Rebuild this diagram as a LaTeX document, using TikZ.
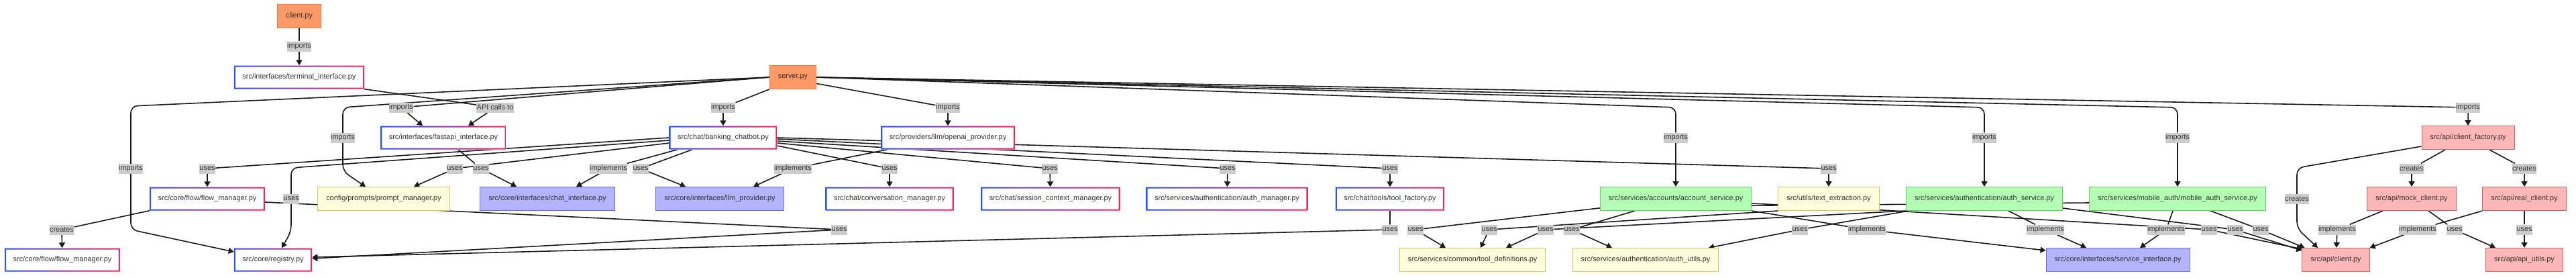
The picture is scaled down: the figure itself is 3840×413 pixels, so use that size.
\documentclass[tikz,border=0pt]{standalone}
\usepackage{fontspec}
\setmainfont{Liberation Sans}
\usetikzlibrary{arrows.meta,backgrounds}

\definecolor{gradA}{HTML}{2B50F5}
\definecolor{gradB}{HTML}{F2275A}
\definecolor{txtgray}{HTML}{333333}
\definecolor{lblgray}{HTML}{CCCCCC}
\definecolor{linecol}{HTML}{1A1A1A}
\definecolor{entryfill}{HTML}{FF9966}
\definecolor{entrydraw}{HTML}{FF7744}
\definecolor{conffill}{HTML}{FFFFDD}
\definecolor{confdraw}{HTML}{E0C060}
\definecolor{ifacefill}{HTML}{B3B3FF}
\definecolor{ifacedraw}{HTML}{6B6BFF}
\definecolor{svcfill}{HTML}{B3FFB3}
\definecolor{svcdraw}{HTML}{66CC66}
\definecolor{apifill}{HTML}{FFB6B6}
\definecolor{apidraw}{HTML}{CC6666}

\begin{document}
\begin{tikzpicture}[x=1pt,y=-1pt,
	every node/.style={font=\fontsize{10.9}{13}\selectfont, text=txtgray},
	modbox/.style={rectangle, minimum height=35pt, inner xsep=12.5pt, inner ysep=0pt},
	srcbox/.style={modbox, fill=white, path picture={
		\shade[left color=gradA, right color=gradB, even odd rule]
		(path picture bounding box.south west) rectangle (path picture bounding box.north east)
		([shift={(2pt,2pt)}]path picture bounding box.south west) rectangle ([shift={(-2pt,-2pt)}]path picture bounding box.north east);}},
	entrybox/.style={modbox, fill=entryfill, draw=entrydraw, line width=1pt},
	confbox/.style={modbox, fill=conffill, draw=confdraw, line width=1pt},
	ifacebox/.style={modbox, fill=ifacefill, draw=ifacedraw, line width=1pt},
	svcbox/.style={modbox, fill=svcfill, draw=svcdraw, line width=1pt},
	apibox/.style={modbox, fill=apifill, draw=apidraw, line width=1pt},
	lbl/.style={fill=lblgray, inner xsep=0.5pt, inner ysep=0pt, minimum height=15pt},
	dep/.style={draw=linecol, line width=1.6pt, -{Triangle[length=8pt,width=9pt]}}]
	\useasboundingbox (0,0) rectangle (3840,413);

	% Knoten
	\node[entrybox] (client) at (446,24) {client.py};
	\node[srcbox] (term) at (446,115) {src/interfaces/terminal\_interface.py};
	\node[entrybox] (server) at (1182,115) {server.py};
	\node[srcbox] (fastapi) at (661,205) {src/interfaces/fastapi\_interface.py};
	\node[srcbox] (chatbot) at (1078,205) {src/chat/banking\_chatbot.py};
	\node[srcbox] (openai) at (1413,205) {src/providers/llm/openai\_provider.py};
	\node[apibox] (factory) at (3679,205) {src/api/client\_factory.py};
	\node[srcbox] (flowA) at (309,296) {src/core/flow/flow\_manager.py};
	\node[confbox] (prompt) at (572,296) {config/prompts/prompt\_manager.py};
	\node[ifacebox] (chatif) at (816,296) {src/core/interfaces/chat\_interface.py};
	\node[ifacebox] (llmif) at (1073,296) {src/core/interfaces/llm\_provider.py};
	\node[srcbox] (conv) at (1326,296) {src/chat/conversation\_manager.py};
	\node[srcbox] (sess) at (1566,296) {src/chat/session\_context\_manager.py};
	\node[srcbox] (authmgr) at (1829,296) {src/services/authentication/auth\_manager.py};
	\node[srcbox] (toolfac) at (2072,296) {src/chat/tools/tool\_factory.py};
	\node[svcbox] (account) at (2498,296) {src/services/accounts/account\_service.py};
	\node[confbox] (textex) at (2726,296) {src/utils/text\_extraction.py};
	\node[svcbox] (authsvc) at (2958,296) {src/services/authentication/auth\_service.py};
	\node[svcbox] (mobile) at (3246,296) {src/services/mobile\_auth/mobile\_auth\_service.py};
	\node[apibox] (mock) at (3595,296) {src/api/mock\_client.py};
	\node[apibox] (real) at (3763,296) {src/api/real\_client.py};
	\node[srcbox] (flowB) at (93,387) {src/core/flow/flow\_manager.py};
	\node[srcbox] (registry) at (407,387) {src/core/registry.py};
	\node[confbox] (tooldef) at (2195,387) {src/services/common/tool\_definitions.py};
	\node[confbox] (authutil) at (2453,387) {src/services/authentication/auth\_utils.py};
	\node[ifacebox] (svcif) at (3157,387) {src/core/interfaces/service\_interface.py};
	\node[apibox] (apiclient) at (3482,387) {src/api/client.py};
	\node[apibox] (apiutil) at (3763,387) {src/api/api\_utils.py};

	% Beschriftungen
	\node[lbl] (lImpTerm) at (446,69) {imports};
	\node[lbl] (lApi) at (738,160) {API calls to};
	\node[lbl] (lImpFast) at (598,160) {imports};
	\node[lbl] (lImpChat) at (1078,160) {imports};
	\node[lbl] (lImpOpen) at (1413,160) {imports};
	\node[lbl] (lImpFact) at (3679,160) {imports};
	\node[lbl] (lImpPrompt) at (511,205) {imports};
	\node[lbl] (lImpAcc) at (2498,205) {imports};
	\node[lbl] (lImpAuth) at (2958,205) {imports};
	\node[lbl] (lImpMob) at (3246,205) {imports};
	\node[lbl] (lImpReg) at (195,251) {imports};
	\node[lbl] (lUseFlow) at (309,251) {uses};
	\node[lbl] (lUsePrompt) at (678,251) {uses};
	\node[lbl] (lUseFastChat) at (717,251) {uses};
	\node[lbl] (lImplChat) at (907,251) {implements};
	\node[lbl] (lUseLlm) at (955,251) {uses};
	\node[lbl] (lImplLlm) at (1182,251) {implements};
	\node[lbl] (lUseConv) at (1326,251) {uses};
	\node[lbl] (lUseSess) at (1565,251) {uses};
	\node[lbl] (lUseAuthMgr) at (1830,251) {uses};
	\node[lbl] (lUseTool) at (2072,251) {uses};
	\node[lbl] (lUseText) at (2726,251) {uses};
	\node[lbl] (lCreMock) at (3595,251) {creates};
	\node[lbl] (lCreReal) at (3763,251) {creates};
	\node[lbl] (lUseReg) at (434,296) {uses};
	\node[lbl] (lCreClient) at (3424,296) {creates};
	\node[lbl] (lCreFlow) at (92,342) {creates};
	\node[lbl] (lUseFlowReg) at (1251,342) {uses};
	\node[lbl] (lUseToolReg) at (2072,342) {uses};
	\node[lbl] (lUseTdA) at (2110,342) {uses};
	\node[lbl] (lUseTdB) at (2220,342) {uses};
	\node[lbl] (lUseTdC) at (2304,342) {uses};
	\node[lbl] (lUseAuA) at (2343,342) {uses};
	\node[lbl] (lUseAuB) at (2683,342) {uses};
	\node[lbl] (lImplSvcA) at (2783,342) {implements};
	\node[lbl] (lImplSvcB) at (3049,342) {implements};
	\node[lbl] (lImplSvcC) at (3229,342) {implements};
	\node[lbl] (lUseClA) at (3293,342) {uses};
	\node[lbl] (lUseClB) at (3332,342) {uses};
	\node[lbl] (lUseClC) at (3370,342) {uses};
	\node[lbl] (lImplClA) at (3484,342) {implements};
	\node[lbl] (lImplClB) at (3604,342) {implements};
	\node[lbl] (lUseUtA) at (3659,342) {uses};
	\node[lbl] (lUseUtB) at (3763,342) {uses};

	% Kanten
	\begin{pgfonlayer}{background}
	\draw[dep] (client) -- (lImpTerm) -- (term);
	\draw[dep] (term.south east) -- (lApi) -- ([xshift=37pt]fastapi.north);
	\draw[dep] (server.west) -- (lImpFast) -- ([xshift=-31pt]fastapi.north);
	\draw[dep,rounded corners=10pt] (server.west) -- (511,160) -- (lImpPrompt.center) -- (511,255) -- ([xshift=-27pt]prompt.north);
	\draw[dep,rounded corners=10pt] (server.west) -- (195,158) -- (lImpReg.center) -- (195,342) -- ([yshift=12pt]registry.west);
	\draw[dep] (server.south west) -- (lImpChat) -- (chatbot);
	\draw[dep] (server.-15) -- (lImpOpen) -- (openai);
	\draw[dep,rounded corners=10pt] (server.east) -- (2498,160) -- (lImpAcc) -- (account);
	\draw[dep,rounded corners=10pt] (server.east) -- (2958,160) -- (lImpAuth) -- (authsvc);
	\draw[dep,rounded corners=10pt] (server.east) -- (3246,160) -- (lImpMob) -- (mobile);
	\draw[dep] (server.east) -- (lImpFact) -- (factory);
	% banking_chatbot
	\draw[dep] (chatbot.west) -- (lUseFlow) -- (flowA);
	\draw[dep] ([yshift=-8pt]chatbot.west) -- (lUsePrompt) -- ([xshift=45pt]prompt.north);
	\draw[dep,rounded corners=10pt] ([yshift=-4pt]chatbot.west) -- (434,250) -- (lUseReg.center) -- (434,345) -- ([xshift=13pt]registry.north);
	\draw[dep] ([xshift=22pt]fastapi.south) -- (lUseFastChat) -- ([xshift=-46pt]chatif.north);
	\draw[dep] ([xshift=-68pt]chatbot.south) -- (lImplChat) -- ([xshift=43pt]chatif.north);
	\draw[dep] ([xshift=-46pt]chatbot.south) -- (lUseLlm) -- ([xshift=-51pt]llmif.north);
	\draw[dep] ([xshift=10pt]openai.south west) -- (lImplLlm) -- ([xshift=50pt]llmif.north);
	\draw[dep] ([yshift=-12pt]chatbot.east) -- (lUseConv) -- (conv);
	\draw[dep] ([yshift=-8pt]chatbot.east) -- (lUseSess) -- (sess);
	\draw[dep] ([yshift=-5pt]chatbot.east) -- (lUseAuthMgr) -- (authmgr);
	\draw[dep] ([yshift=-2pt]chatbot.east) -- (lUseTool) -- (toolfac);
	\draw[dep] (chatbot.east) -- (lUseText) -- (textex);
	% core
	\draw[dep] (flowA.south west) -- (lCreFlow) -- (flowB);
	\draw[dep] ([yshift=-5pt]flowA.east) -- (lUseFlowReg) -- ([yshift=2pt]registry.east);
	\draw[dep] (toolfac) -- (lUseToolReg) -- ([yshift=4pt]registry.east);
	% services
	\draw[dep] ([yshift=-6pt]mobile.west) -- (2400,308) -- (lUseTdA) -- ([xshift=-40pt]tooldef.north);
	\draw[dep] (textex.south west) -- (lUseTdB) -- ([xshift=12pt]tooldef.north);
	\draw[dep] (authsvc.south west) -- (lUseTdC) -- ([xshift=50pt]tooldef.north);
	\draw[dep] ([xshift=-61pt]account.south) -- (lUseAuA) -- ([xshift=-50pt]authutil.north);
	\draw[dep] ([xshift=4pt]authsvc.south west) -- (lUseAuB) -- ([xshift=94pt]authutil.north);
	\draw[dep] (account.south east) -- (lImplSvcA) -- ([yshift=-4pt]svcif.north west);
	\draw[dep] ([xshift=36pt]authsvc.south) -- (lImplSvcB) -- ([xshift=-47pt]svcif.north);
	\draw[dep] ([xshift=-7pt]mobile.south) -- (lImplSvcC) -- ([xshift=33pt]svcif.north);
	\draw[dep] ([yshift=-7pt]account.east) -- (2790,312) -- (lUseClA) -- ([yshift=-2pt]apiclient.north west);
	\draw[dep] ([yshift=-14pt]authsvc.east) -- (lUseClB) -- ([yshift=-4pt]apiclient.north west);
	\draw[dep] ([xshift=49pt]mobile.south) -- (lUseClC) -- ([xshift=4pt]apiclient.north west);
	% api
	\draw[dep,rounded corners=10pt] ([yshift=-13pt]factory.west) -- (3424,250) -- (lCreClient.center) -- (3424,340) -- ([xshift=-27pt]apiclient.north);
	\draw[dep] ([xshift=-34pt]factory.south) -- (lCreMock) -- (mock);
	\draw[dep] ([xshift=32pt]factory.south) -- (lCreReal) -- (real);
	\draw[dep] ([xshift=-43pt]mock.south) -- (lImplClA) -- (apiclient);
	\draw[dep] (real.south west) -- (lImplClB) -- (apiclient.north east);
	\draw[dep] ([xshift=25pt]mock.south) -- (lUseUtA) -- ([xshift=-43pt]apiutil.north);
	\draw[dep] (real) -- (lUseUtB) -- (apiutil);
	\end{pgfonlayer}
\end{tikzpicture}
\end{document}
